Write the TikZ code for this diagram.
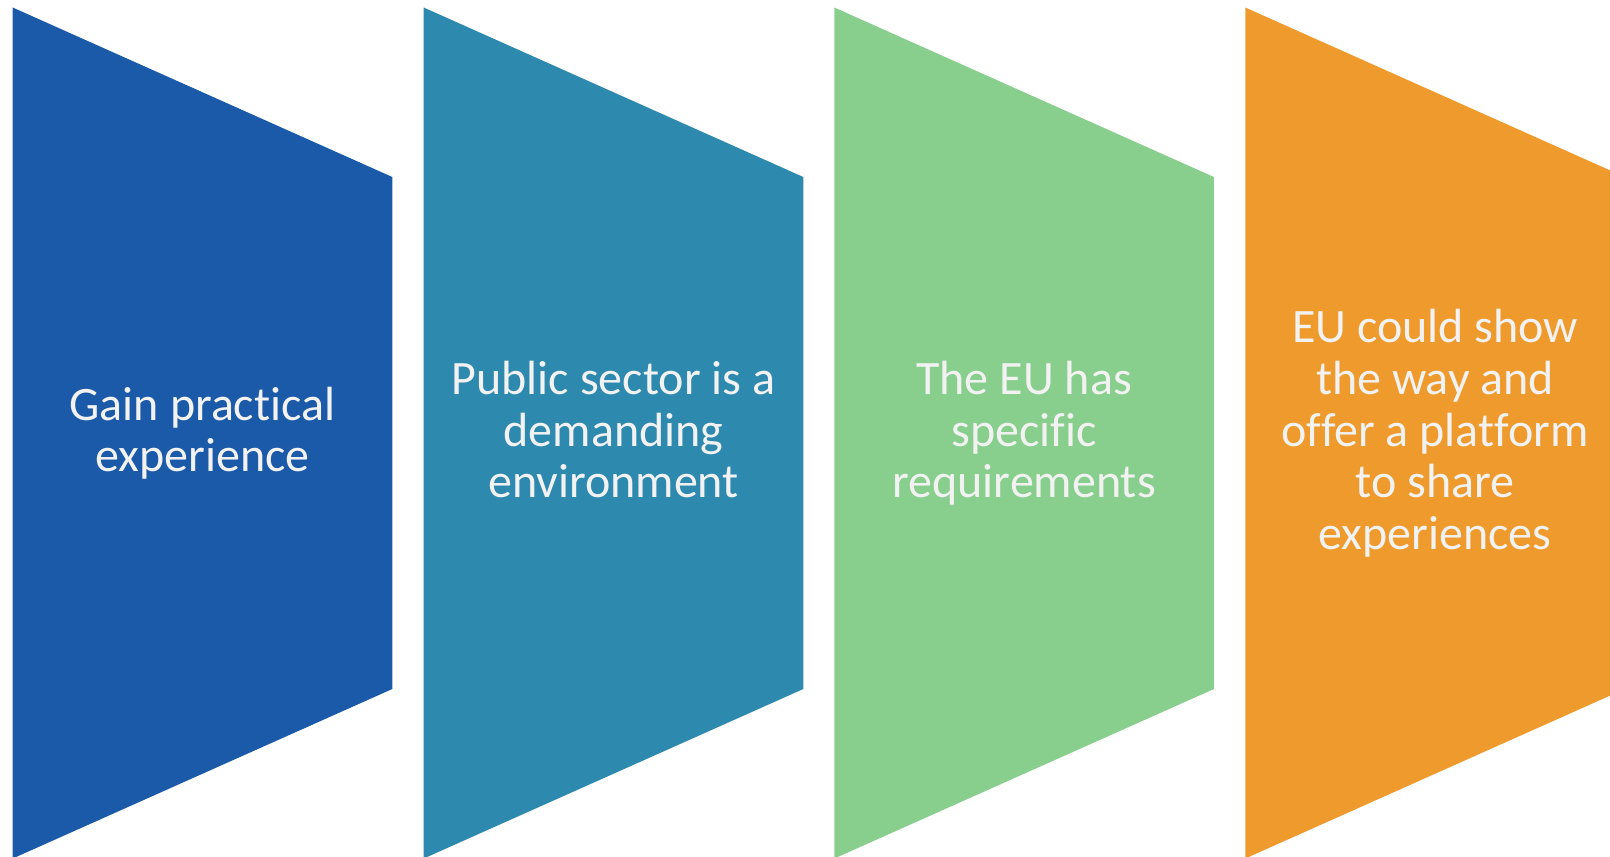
\documentclass[tikz,border=0pt]{standalone}
\usepackage{fontspec}
\setmainfont{Carlito}[Ligatures=CommonOff]
\definecolor{cblue}{RGB}{27,90,168}
\definecolor{cteal}{RGB}{46,137,175}
\definecolor{cgreen}{RGB}{136,206,140}
\definecolor{corange}{RGB}{239,154,44}
\definecolor{txt}{RGB}{242,242,242}
\begin{document}
\begin{tikzpicture}[x=1pt,y=-1pt,
  panel/.style={draw=none},
  lbl/.style={text=txt, align=center, inner sep=0pt, font=\fontsize{48}{51.7}\selectfont}]
\useasboundingbox (0,0) rectangle (1610,857);
\clip (0,0) rectangle (1610,857);
\foreach \x/\c in {12.7/cblue, 423.7/cteal, 834.3/cgreen, 1245.3/corange} {
  \fill[panel,\c] (\x,7.5) -- (\x+379.6,177) -- (\x+379.6,689) -- (\x,858.5) -- cycle;
}
\node[lbl] (t1) at (202.5,435.7) {\strut Gain practical\\experience\strut};
\node[lbl] (t2) at (613.5,435.7) {\strut Public sector is a\\demanding\\environment\strut};
\node[lbl] (t3) at (1024.1,435.7) {\strut The EU has\\specific\\requirements\strut};
\node[lbl] (t4) at (1435.1,435.7) {\strut EU could show\\the way and\\offer a platform\\to share\\experiences\strut};
\end{tikzpicture}
\end{document}
